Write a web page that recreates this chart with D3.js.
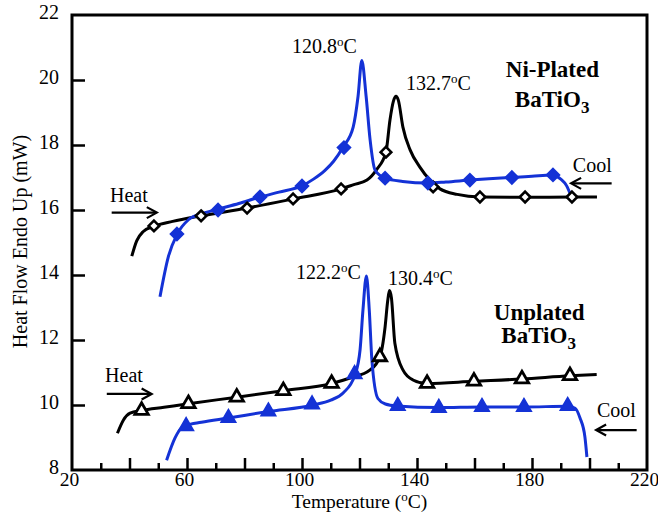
<!DOCTYPE html>
<html><head><meta charset="utf-8">
<script src="https://cdn.jsdelivr.net/npm/d3@7"></script>
<style>body{margin:0;background:#fff}svg{display:block}</style>
</head><body><svg id="c" width="658" height="514"></svg>
<script>
// ---- data ----
const xTickLabels = [20, 60, 100, 140, 180, 220];
const yTickLabels = [8, 10, 12, 14, 16, 18, 20, 22];

// Ni-plated BaTiO3, heating (black) trace
const niHeatT = [40.8, 42.5, 44.7, 48.5, 55, 64.9, 80.9, 96.9, 113.6, 118, 122.6, 126, 129.2, 130.6, 131.8, 132.7, 133.5, 135.1, 137.6, 141, 144.5, 148, 154, 162, 178, 194, 202.6];
const niHeatV = [14.58, 15.05, 15.33, 15.5, 15.65, 15.82, 16.06, 16.34, 16.65, 16.78, 16.92, 17.25, 17.78, 18.77, 19.35, 19.5, 19.38, 18.55, 17.85, 17.32, 16.92, 16.65, 16.48, 16.4, 16.39, 16.4, 16.4];
const niHeatMarkT = [48.5, 64.9, 80.9, 96.9, 113.6, 129.2, 145.6, 161.9, 177.6, 193.9];
const niHeatMarkV = [15.51, 15.82, 16.06, 16.34, 16.65, 17.78, 16.71, 16.40, 16.40, 16.40];

// Ni-plated BaTiO3, cooling (blue) trace
const niCoolT = [50.6, 53.5, 56.6, 60.5, 65, 70.5, 78, 85.4, 92, 99.9, 104, 108, 111, 114.3, 117.8, 119.5, 120.8, 122.3, 123.7, 125.4, 128.9, 135, 143.8, 150, 158.4, 165, 173, 180, 186.9, 190, 192, 193.5];
const niCoolV = [13.33, 14.56, 15.26, 15.7, 15.88, 16.02, 16.2, 16.4, 16.55, 16.74, 16.95, 17.22, 17.5, 17.94, 18.55, 19.5, 20.6, 19.5, 18.15, 17.23, 16.98, 16.88, 16.83, 16.86, 16.92, 16.96, 17.0, 17.04, 17.08, 16.95, 16.75, 16.45];
const niCoolMarkT = [56.5, 70.8, 85.4, 100, 114.6, 128.9, 143.8, 158.4, 173, 187.3];
const niCoolMarkV = [15.26, 16.0, 16.4, 16.74, 17.92, 16.98, 16.83, 16.92, 17.0, 17.08];

// Unplated BaTiO3, heating (black) trace
const unHeatT = [35.8, 37.9, 40.2, 44.2, 52, 60.5, 77.3, 93.5, 110.3, 116.7, 123.7, 127.1, 128.9, 129.8, 130.4, 131.1, 132.3, 135.1, 138.6, 143.5, 159.8, 176.5, 193.2, 202.5];
const unHeatV = [9.13, 9.54, 9.75, 9.83, 9.93, 10.04, 10.24, 10.44, 10.66, 10.83, 11.08, 11.48, 12.4, 13.2, 13.52, 13.3, 11.9, 11.08, 10.77, 10.66, 10.73, 10.8, 10.9, 10.94];
const unHeatMarkT = [44.2, 60.5, 77.3, 93.5, 110.3, 127.1, 143.5, 159.8, 176.5, 193.2];
const unHeatMarkV = [9.83, 10.04, 10.24, 10.44, 10.66, 11.48, 10.66, 10.73, 10.8, 10.9];

// Unplated BaTiO3, cooling (blue) trace
const unCoolT = [52.9, 55.8, 58.1, 59.7, 65, 74.4, 88.3, 103.9, 110, 114.3, 118.4, 120.2, 121.2, 122.4, 123.4, 124.3, 126.4, 129, 133, 147.6, 162.6, 177.2, 192.5, 195, 196.7, 198.4, 199.1];
const unCoolV = [8.3, 8.98, 9.3, 9.37, 9.47, 9.6, 9.8, 10.0, 10.15, 10.37, 10.92, 11.7, 12.92, 13.97, 12.92, 11.4, 10.2, 10.03, 9.97, 9.92, 9.94, 9.94, 9.96, 9.9, 9.6, 9.02, 8.4];
const unCoolMarkT = [59.7, 74.4, 88.3, 103.5, 118.3, 133.3, 147.6, 162.6, 177.2, 192.4];
const unCoolMarkV = [9.35, 9.6, 9.8, 10.02, 10.95, 9.97, 9.91, 9.94, 9.94, 9.97];

// annotations (data coordinates)
const peakLabels = [
  {t: 96.5, v: 20.84, num: "120.8"},
  {t: 136.2, v: 19.69, num: "132.7"},
  {t: 97.9, v: 13.88, num: "122.2"},
  {t: 129.9, v: 13.69, num: "130.4"}
];
const sampleLabels = [
  {t: 187.1, v: 20.1, main: "Ni-Plated", sub: null},
  {t: 187.0, v: 19.17, main: "BaTiO", sub: "3"},
  {t: 182.5, v: 12.62, main: "Unplated", sub: null},
  {t: 182.3, v: 11.91, main: "BaTiO", sub: "3"}
];
const arrowLabels = [
  {text: "Heat", tt: 33.2, tv: 16.26, t0: 33.8, t1: 49.5, v: 15.92},
  {text: "Cool", tt: 194.2, tv: 17.18, t0: 207.7, t1: 193.6, v: 16.82},
  {text: "Heat", tt: 31.5, tv: 10.72, t0: 32.1, t1: 47.7, v: 10.34},
  {text: "Cool", tt: 202.6, tv: 9.62, t0: 216.4, t1: 202.3, v: 9.23}
];

// ---- drawing ----
const BLUE = "#1432d6";
const FONT = "'Liberation Serif', 'Times New Roman', serif";
const svg = d3.select("#c");
const L = 72, R = 647, T = 15, B = 470;
const x = d3.scaleLinear().domain([20, 220]).range([L, R]);
const y = d3.scaleLinear().domain([8, 22]).range([B, T]);

// axes
const xAxis = d3.axisBottom(x)
  .tickValues(d3.range(20, 221, 10))
  .tickSizeInner(-12).tickSizeOuter(0).tickPadding(2)
  .tickFormat(d => xTickLabels.includes(d) ? d : "");
const gx = svg.append("g").attr("transform", `translate(0,${B})`).call(xAxis);
gx.select(".domain").remove();
gx.selectAll(".tick line")
  .attr("y2", d => (d % 20 === 0 ? -12 : -7))
  .attr("stroke-width", 2.5);
gx.selectAll(".tick text").attr("font-family", FONT).attr("font-size", 19.5)
  .attr("fill", "#000").attr("dx", -3);

const yAxis = d3.axisLeft(y).tickValues(yTickLabels)
  .tickSizeInner(-13).tickSizeOuter(0).tickPadding(13);
const gy = svg.append("g").attr("transform", `translate(${L},0)`).call(yAxis);
gy.select(".domain").remove();
gy.selectAll(".tick line").attr("stroke-width", 2.5);
gy.selectAll(".tick text").attr("font-family", FONT).attr("font-size", 20)
  .attr("fill", "#000").attr("dy", "0.18em");
// no tick marks on the frame corners
gx.selectAll(".tick").filter(d => d === 20 || d === 220).select("line").remove();
gy.selectAll(".tick").filter(d => d === 8 || d === 22).select("line").remove();

// frame
svg.append("rect").attr("x", L).attr("y", T).attr("width", R - L).attr("height", B - T)
  .attr("fill", "none").attr("stroke", "#000").attr("stroke-width", 3);

// axis titles
const xt = svg.append("text").attr("x", (L + R) / 2).attr("y", 508)
  .attr("text-anchor", "middle").attr("font-family", FONT).attr("font-size", 19.5);
xt.append("tspan").text("Temperature (");
xt.append("tspan").text("o").attr("font-size", 13).attr("dy", -7);
xt.append("tspan").text("C)").attr("dy", 7);
svg.append("text").attr("transform", `translate(27,${(T + B) / 2 - 1}) rotate(-90)`)
  .attr("text-anchor", "middle").attr("font-family", FONT).attr("font-size", 20)
  .text("Heat Flow Endo Up (mW)");

// curves
const line = d3.line().x(d => x(d[0])).y(d => y(d[1])).curve(d3.curveMonotoneX);
const zip = (a, b) => a.map((t, i) => [t, b[i]]);
const series = [
  {T: niHeatT, V: niHeatV, color: "#000"},
  {T: unHeatT, V: unHeatV, color: "#000"},
  {T: niCoolT, V: niCoolV, color: BLUE},
  {T: unCoolT, V: unCoolV, color: BLUE}
];
series.forEach(s => {
  svg.append("path").datum(zip(s.T, s.V)).attr("d", line)
    .attr("fill", "none").attr("stroke", s.color).attr("stroke-width", 3)
    .attr("stroke-linejoin", "round").attr("stroke-linecap", "butt");
});

// markers
const diamond = d3.symbol().type(d3.symbolDiamond2);
const triangle = d3.symbol().type(d3.symbolTriangle);
function markers(Ts, Vs, sym, size, fill, stroke, sw) {
  svg.append("g").selectAll("path").data(zip(Ts, Vs)).join("path")
    .attr("transform", d => `translate(${x(d[0])},${y(d[1])})`)
    .attr("d", sym.size(size)())
    .attr("fill", fill).attr("stroke", stroke).attr("stroke-width", sw)
    .attr("stroke-linejoin", "miter");
}
markers(niHeatMarkT, niHeatMarkV, diamond, 72, "#fff", "#000", 2.6);
markers(niCoolMarkT, niCoolMarkV, diamond, 100, BLUE, BLUE, 2);
markers(unHeatMarkT, unHeatMarkV, triangle, 78, "#fff", "#000", 2.8);
markers(unCoolMarkT, unCoolMarkV, triangle, 95, BLUE, BLUE, 1.5);

// peak labels
peakLabels.forEach(p => {
  const t = svg.append("text").attr("x", x(p.t)).attr("y", y(p.v))
    .attr("font-family", FONT).attr("font-size", 20);
  t.append("tspan").text(p.num);
  t.append("tspan").text("o").attr("font-size", 13).attr("dy", -7);
  t.append("tspan").text("C").attr("dy", 7);
});

// sample labels
sampleLabels.forEach(s => {
  const t = svg.append("text").attr("x", x(s.t)).attr("y", y(s.v))
    .attr("text-anchor", "middle").attr("font-family", FONT)
    .attr("font-size", 23).attr("font-weight", "bold");
  t.append("tspan").text(s.main);
  if (s.sub) t.append("tspan").text(s.sub).attr("font-size", 17).attr("dy", 6);
});

// heat / cool arrows
arrowLabels.forEach(a => {
  svg.append("text").attr("x", x(a.tt)).attr("y", y(a.tv))
    .attr("font-family", FONT).attr("font-size", 20).text(a.text);
  const x0 = x(a.t0), x1 = x(a.t1), yy = y(a.v);
  const dir = Math.sign(x1 - x0);
  svg.append("line").attr("x1", x0).attr("x2", x1 - dir * 1).attr("y1", yy).attr("y2", yy)
    .attr("stroke", "#000").attr("stroke-width", 2.2);
  svg.append("path")
    .attr("d", `M${x1 - dir * 10},${yy - 5.5}L${x1},${yy}L${x1 - dir * 10},${yy + 5.5}`)
    .attr("fill", "none").attr("stroke", "#000").attr("stroke-width", 2.2);
});
</script>
</body></html>
